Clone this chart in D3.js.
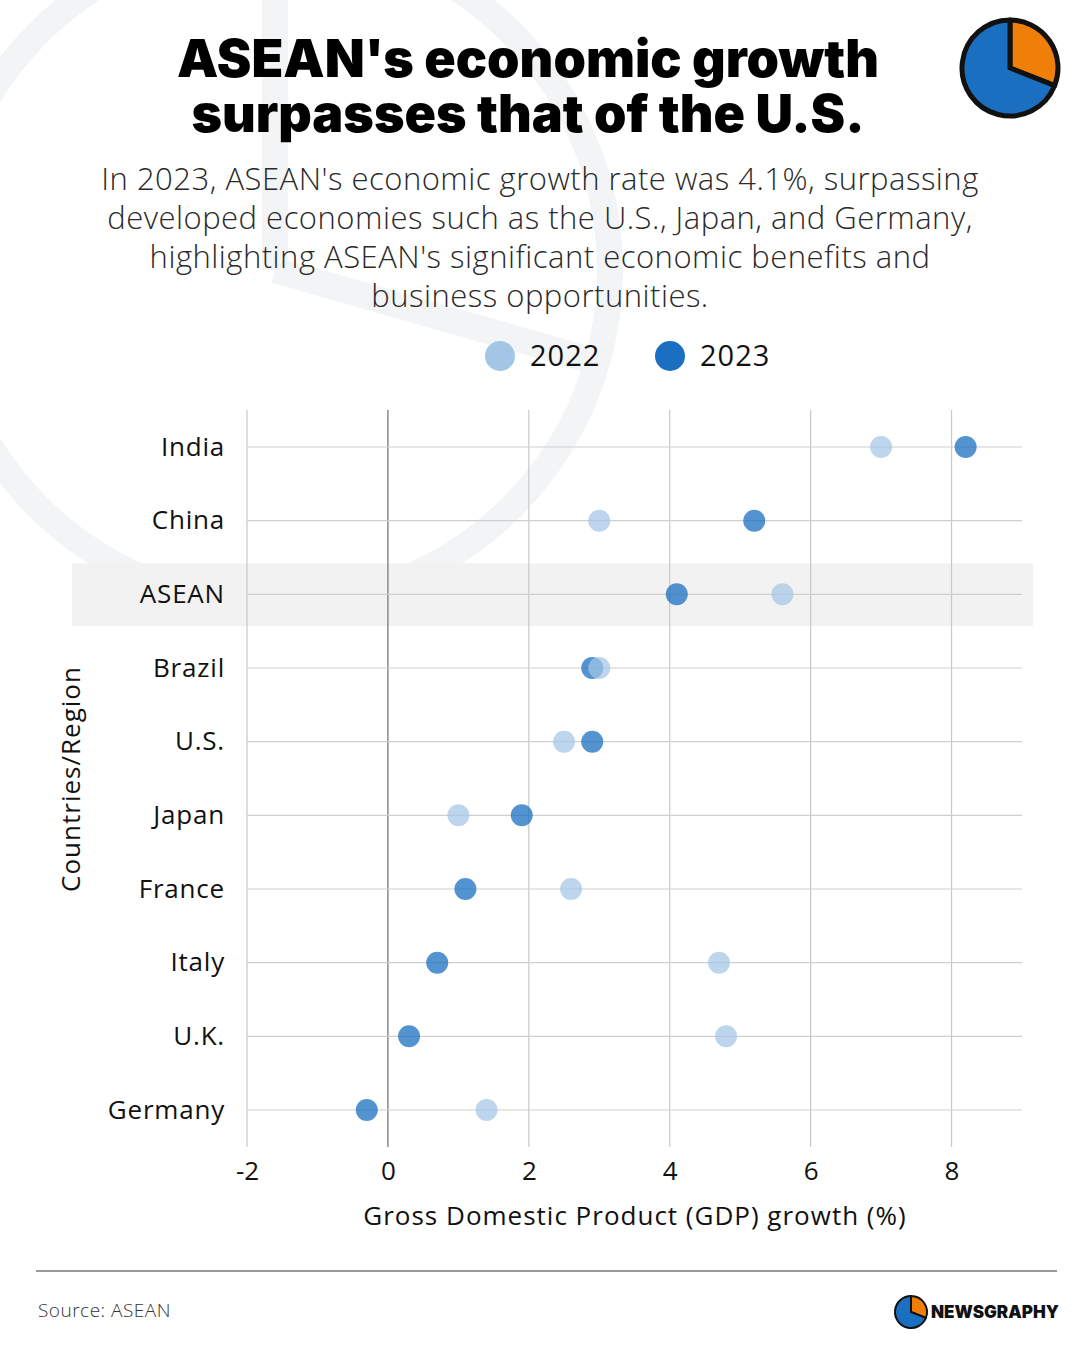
<!DOCTYPE html>
<html>
<head>
<meta charset="utf-8">
<script src="https://cdn.jsdelivr.net/npm/d3@7"></script>
<style>
  body { margin: 0; background: #fff; }
  svg { display: block; font-family: "Open Sans", Lato, sans-serif; }
</style>
</head>
<body>
<svg id="svg1" width="1080" height="1350"></svg>
<script>
// data
var countries = ["India", "China", "ASEAN", "Brazil", "U.S.", "Japan", "France", "Italy", "U.K.", "Germany"];
var growth2022 = [7.0, 3.0, 5.6, 3.0, 2.5, 1.0, 2.6, 4.7, 4.8, 1.4];
var growth2023 = [8.2, 5.2, 4.1, 2.9, 2.9, 1.9, 1.1, 0.7, 0.3, -0.3];
var xTicks = [-2, 0, 2, 4, 6, 8];
var years = ["2022", "2023"];
var highlight = "ASEAN";

var plotLeft = 247;
var plotRight = 1022;
var plotTop = 410;
var plotBottom = 1147;

var light = "#a3c6e6";
var dark = "#1a6fc0";

var svg = d3.select('#svg1');

// background watermark (big pie logo outline)
var wm = svg.append('g')
    .attr('fill', 'none')
    .attr('stroke', '#f3f4f6')
    .attr('stroke-width', 26);
wm.append('circle').attr('cx', 275).attr('cy', 270).attr('r', 335);
wm.append('line').attr('x1', 275).attr('y1', -80).attr('x2', 275).attr('y2', 270);
wm.append('line').attr('x1', 275).attr('y1', 270).attr('x2', 597).attr('y2', 362);

// title
var title = svg.append('text')
    .attr('text-anchor', 'middle')
    .attr('font-family', 'Inter, Lato, sans-serif')
    .attr('font-weight', 900)
    .attr('font-size', 52)
    .attr('fill', '#000');
title.append('tspan').attr('x', 528).attr('y', 77).text("ASEAN's economic growth");
title.append('tspan').attr('x', 528).attr('y', 132).text("surpasses that of the U.S.");

// subtitle
var subLines = [
    "In 2023, ASEAN's economic growth rate was 4.1%, surpassing",
    "developed economies such as the U.S., Japan, and Germany,",
    "highlighting ASEAN's significant economic benefits and",
    "business opportunities."
];
svg.append('g').selectAll('text')
    .data(subLines)
    .enter()
    .append('text')
    .attr('x', 540)
    .attr('y', function (d, i) { return 190 + i * 39; })
    .attr('text-anchor', 'middle')
    .attr('font-weight', 300)
    .attr('font-size', 31)
    .attr('letter-spacing', 0.5)
    .attr('fill', '#2a2a2a')
    .text(function (d) { return d; });

// pie icon top right
var pieIcon = svg.append('g').attr('transform', 'translate(1010,68)');
var iconArc = d3.arc().innerRadius(0).outerRadius(48);
var iconPie = d3.pie().sort(null)([31, 69]);
pieIcon.selectAll('path')
    .data(iconPie)
    .enter()
    .append('path')
    .attr('d', iconArc)
    .attr('fill', function (d, i) { return i === 0 ? '#f07f09' : '#1a6fc0'; })
    .attr('stroke', '#111')
    .attr('stroke-width', 5)
    .attr('stroke-linejoin', 'round');

// legend
var legend = svg.append('g');
var legendX = [500, 670];
years.forEach(function (y, i) {
    legend.append('circle')
        .attr('cx', legendX[i]).attr('cy', 356).attr('r', 15)
        .attr('fill', i === 0 ? light : dark);
    legend.append('text')
        .attr('x', legendX[i] + 30).attr('y', 366)
        .attr('font-size', 29)
        .attr('letter-spacing', 1)
        .attr('fill', '#111')
        .text(y);
});

// scales
var x = d3.scaleLinear().domain([-2, 9]).range([plotLeft, plotRight]);
var y = d3.scalePoint().domain(countries).range([447, 1110]);

// highlight band
svg.append('rect')
    .attr('x', 72)
    .attr('width', 1033 - 72)
    .attr('y', y(highlight) - 31)
    .attr('height', 63)
    .attr('fill', '#f2f2f2');

// grid
var grid = svg.append('g');
grid.selectAll('line.v')
    .data(xTicks)
    .enter()
    .append('line')
    .attr('class', 'v')
    .attr('x1', function (d) { return x(d); })
    .attr('x2', function (d) { return x(d); })
    .attr('y1', plotTop)
    .attr('y2', plotBottom)
    .attr('stroke', function (d) { return d === 0 ? '#8a8a8a' : '#c8c8c8'; })
    .attr('stroke-width', function (d) { return d === 0 ? 1.5 : 1.2; });
grid.selectAll('line.h')
    .data(countries)
    .enter()
    .append('line')
    .attr('class', 'h')
    .attr('x1', plotLeft)
    .attr('x2', plotRight)
    .attr('y1', function (d) { return y(d); })
    .attr('y2', function (d) { return y(d); })
    .attr('stroke', '#cfcfcf')
    .attr('stroke-width', 1.2);

// x axis
var xAxis = svg.append('g')
    .attr('transform', 'translate(0,' + (plotBottom + 15) + ')')
    .call(d3.axisBottom(x).tickValues(xTicks).tickFormat(function (d) { return String(d); })
        .tickSize(0).tickPadding(0));
xAxis.select('.domain').remove();
xAxis.selectAll('text')
    .attr('font-family', '"Open Sans", sans-serif')
    .attr('font-size', 26)
    .attr('fill', '#111');

// y axis
var yAxis = svg.append('g')
    .attr('transform', 'translate(' + (plotLeft - 22) + ',0)')
    .call(d3.axisLeft(y).tickSize(0).tickPadding(0));
yAxis.select('.domain').remove();
yAxis.selectAll('text')
    .attr('font-family', '"Open Sans", sans-serif')
    .attr('font-size', 26)
    .attr('letter-spacing', 0.8)
    .attr('fill', '#111');

// axis titles
svg.append('text')
    .attr('x', 635)
    .attr('y', 1225)
    .attr('text-anchor', 'middle')
    .attr('font-size', 26)
    .attr('letter-spacing', 1)
    .attr('fill', '#111')
    .text("Gross Domestic Product (GDP) growth (%)");
svg.append('text')
    .attr('transform', 'translate(80,779) rotate(-90)')
    .attr('text-anchor', 'middle')
    .attr('font-size', 26)
    .attr('letter-spacing', 1)
    .attr('fill', '#111')
    .text("Countries/Region");

// dots
var rows = countries.map(function (c, i) {
    return { country: c, v2022: growth2022[i], v2023: growth2023[i] };
});
var dots = svg.append('g');
dots.selectAll('circle.d2023')
    .data(rows)
    .enter()
    .append('circle')
    .attr('class', 'd2023')
    .attr('cx', function (d) { return x(d.v2023); })
    .attr('cy', function (d) { return y(d.country); })
    .attr('r', 11)
    .attr('fill', dark)
    .attr('fill-opacity', 0.75);
dots.selectAll('circle.d2022')
    .data(rows)
    .enter()
    .append('circle')
    .attr('class', 'd2022')
    .attr('cx', function (d) { return x(d.v2022); })
    .attr('cy', function (d) { return y(d.country); })
    .attr('r', 11)
    .attr('fill', light)
    .attr('fill-opacity', 0.72);

// footer
svg.append('line')
    .attr('x1', 36).attr('x2', 1057)
    .attr('y1', 1271).attr('y2', 1271)
    .attr('stroke', '#777')
    .attr('stroke-width', 1.5);
svg.append('text')
    .attr('x', 38).attr('y', 1317)
    .attr('font-size', 19)
    .attr('font-weight', 300)
    .attr('letter-spacing', 0.5)
    .attr('fill', '#333')
    .text("Source: ASEAN");

var logo = svg.append('g').attr('transform', 'translate(911,1312)');
var logoArc = d3.arc().innerRadius(0).outerRadius(16);
logo.selectAll('path')
    .data(d3.pie().sort(null)([31, 69]))
    .enter()
    .append('path')
    .attr('d', logoArc)
    .attr('fill', function (d, i) { return i === 0 ? '#f07f09' : '#1a6fc0'; })
    .attr('stroke', '#111')
    .attr('stroke-width', 2);
svg.append('text')
    .attr('x', 931).attr('y', 1318)
    .attr('font-family', 'Inter, Lato, sans-serif')
    .attr('font-size', 17)
    .attr('font-weight', 900)
    .attr('fill', '#111')
    .text("NEWSGRAPHY");
</script>
</body>
</html>
